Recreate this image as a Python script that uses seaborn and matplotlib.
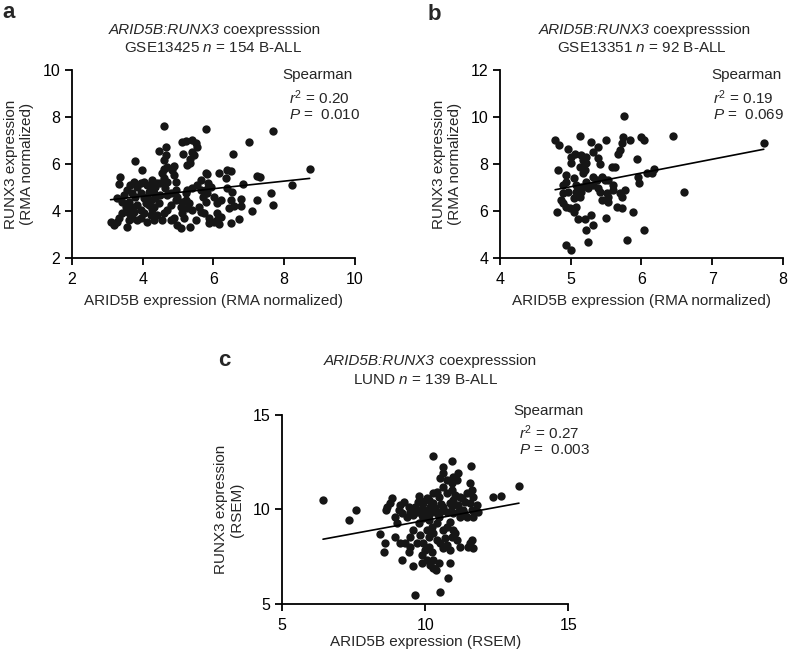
import numpy as np
import matplotlib
matplotlib.use("Agg")
import matplotlib.pyplot as plt
import seaborn as sns

# panel a: GSE13425 (ARID5B x, RUNX3 y)
a_x = [4.60, 5.78, 7.67, 7.00, 8.72, 8.23, 7.62, 7.67, 7.24, 7.10, 7.24, 7.33, 6.55, 6.84, 6.77,
       6.77, 6.72, 6.49, 6.49, 6.39, 6.16, 6.35, 6.37, 6.53, 6.49, 6.58, 6.44, 6.20, 6.11, 6.09,
       6.20, 6.11, 6.16, 6.02, 5.88, 5.88, 5.73, 5.80, 5.81, 5.82, 5.84, 5.80, 5.82, 5.64, 5.54,
       5.40, 5.26, 5.31, 5.26, 5.40, 5.50, 5.35, 5.17, 5.07, 4.97, 4.88, 5.07, 5.12, 4.93, 4.79,
       4.69, 4.60, 4.55, 4.41, 4.27, 5.21, 5.21, 4.93, 4.79, 4.64, 4.69, 4.50,
       5.21, 5.40, 5.50, 5.54, 5.40, 5.45, 5.35, 5.35, 5.26, 5.14, 5.12,
       4.46, 4.65, 4.65, 4.60, 4.69, 4.88, 4.60, 4.55, 4.60, 4.50, 4.69, 4.93,
       3.79, 3.98, 3.37, 3.34,
       3.09, 3.18, 3.28, 3.32, 3.42, 3.56, 3.61, 3.70, 3.84, 3.94, 3.52, 3.61, 3.70, 3.84, 3.94,
       4.03, 4.17, 4.22, 4.12, 4.31, 3.46, 3.56, 3.65, 3.75, 3.84, 3.94, 4.03, 4.12, 4.22, 4.27,
       3.70, 3.79, 3.94, 4.03, 4.12, 4.22, 4.31, 4.36, 4.08, 3.75, 3.42, 3.28, 4.36, 4.41, 4.17,
       3.61, 4.31, 4.46,
       5.64, 5.69, 5.59, 5.64, 5.92, 6.01, 4.88, 4.83, 4.97, 5.12, 4.79]
a_y = [7.62, 7.52, 7.41, 6.93, 5.80, 5.12, 4.79, 4.28, 4.48, 4.01, 5.51, 5.44, 6.46, 5.17, 4.52,
       4.24, 3.67, 3.52, 5.73, 5.76, 5.61, 5.40, 5.00, 4.83, 4.48, 4.22, 4.12, 4.48, 4.37, 3.91,
       3.77, 3.63, 3.46, 3.56, 3.70, 3.49, 3.91, 4.38, 4.76, 4.93, 5.21, 5.64, 5.57, 5.33, 5.12,
       5.00, 4.90, 4.34, 4.12, 4.05, 3.63, 3.35, 3.70, 3.30, 3.42, 3.70, 4.20, 4.41, 4.48, 4.27,
       4.05, 3.91, 3.63, 3.84, 4.08, 4.48, 4.76, 4.90, 4.76, 4.97, 4.69, 4.69,
       7.00, 7.02, 6.89, 6.74, 6.53, 6.39, 6.21, 6.04, 5.97, 6.46, 6.93,
       6.56, 6.74, 6.39, 6.18, 5.90, 5.92, 5.82, 5.61, 5.40, 5.19, 5.26, 5.26,
       6.15, 5.75, 5.47, 5.16,
       3.56, 3.42, 3.56, 3.70, 3.91, 3.35, 3.63, 3.70, 3.63, 3.70, 4.20, 4.41, 4.20, 4.27, 4.05,
       3.91, 4.27, 3.84, 3.56, 3.63, 4.69, 4.90, 5.12, 5.26, 5.05, 5.19, 5.26, 5.12, 5.05, 5.33,
       4.76, 4.62, 4.76, 4.55, 4.62, 4.48, 4.76, 4.55, 4.34, 3.98, 4.41, 4.55, 5.05, 5.22, 4.83,
       3.91, 4.20, 4.34,
       4.90, 4.62, 4.20, 3.98, 5.05, 4.62, 5.54, 5.75, 4.62, 3.91, 3.63]

# panel b: GSE13351
b_x = [5.75, 6.44, 7.73, 6.60, 6.03, 5.79, 5.25, 4.94, 5.00, 5.13, 4.78, 4.84, 5.50, 5.28, 5.72,
       5.74, 5.84, 6.00, 6.03, 5.69, 5.67, 5.39, 4.96, 5.01, 5.06, 5.15, 5.22, 5.32, 5.18, 5.01,
       5.13, 5.22, 5.39, 5.41, 5.58, 5.62, 5.94, 4.82, 5.20, 5.18, 4.94, 5.04, 4.94, 5.08, 4.89,
       5.15, 5.15, 5.32, 5.37, 5.44, 5.48, 5.53, 5.32, 5.39, 5.41, 5.51, 5.53, 5.60, 5.60, 5.69,
       5.77, 5.72, 5.44, 5.53, 5.65, 5.73, 5.88, 5.95, 5.96, 6.08, 6.15, 6.18, 4.86, 4.89, 4.94,
       4.99, 5.04, 4.80, 4.89, 5.04, 5.11, 5.08, 5.20, 5.29, 5.32, 5.22, 5.50, 5.21, 5.25, 5.13,
       5.08, 4.96]
b_y = [10.05, 9.20, 8.89, 6.83, 5.20, 4.78, 4.68, 4.57, 4.35, 9.20, 9.03, 8.82, 9.03, 8.96, 8.89,
       9.17, 9.03, 9.17, 9.03, 8.60, 8.46, 8.74, 8.67, 8.32, 8.46, 8.39, 8.32, 8.53, 8.18, 8.04,
       7.90, 8.04, 8.25, 8.00, 7.90, 7.87, 8.21, 7.75, 7.75, 7.61, 7.54, 7.40, 7.26, 7.12, 7.12,
       7.05, 6.83, 7.47, 7.33, 7.47, 7.33, 7.33, 7.12, 6.97, 6.83, 6.76, 6.62, 7.12, 6.90, 6.76,
       6.90, 6.62, 6.48, 6.41, 6.20, 6.12, 5.96, 7.47, 7.19, 7.61, 7.61, 7.82, 6.48, 6.34, 6.20,
       6.12, 5.98, 5.96, 6.76, 6.55, 5.66, 6.20, 5.67, 5.84, 5.42, 5.20, 5.73, 7.26, 6.97, 6.62,
       6.83, 6.83]

# panel c: LUND (RSEM)
c_x = [6.43, 7.33, 7.58, 8.43, 8.60, 8.57, 8.84, 8.66, 8.64, 8.78, 9.01, 9.13, 9.19, 9.42, 9.57,
       9.48, 9.65, 10.52, 10.81, 10.26, 10.29, 10.64, 10.93, 11.60, 13.28, 12.67, 12.36, 9.77, 9.13,
       9.19, 9.08, 9.48, 9.59, 9.71, 9.83, 9.88, 9.94, 10.12, 10.12, 10.06, 10.17, 10.29, 10.35,
       10.29, 10.41, 10.47, 10.64, 10.76, 10.93, 11.10, 10.76, 10.93, 11.05, 11.22, 11.45, 11.63,
       11.69, 11.40, 11.16, 10.87, 10.64, 10.52, 10.76, 10.99, 11.16, 11.34, 11.57, 11.63, 11.69,
       11.86, 11.80, 11.45, 11.22, 10.47, 10.41, 10.23, 10.06, 10.29, 10.12, 9.94, 10.12, 10.23,
       10.00, 9.88, 10.06, 10.29, 10.41, 10.52, 10.70, 10.64, 10.76, 10.87, 10.99, 10.93, 11.05,
       11.10, 10.76, 10.87, 10.64, 9.77, 9.59, 9.83, 9.71, 9.88, 10.17, 10.37, 9.65, 9.42, 9.25,
       11.57, 11.63, 11.51, 11.69, 9.31, 8.95, 9.48, 10.52, 10.64, 10.99, 11.16, 11.57, 10.99,
       10.12, 9.94, 8.95, 10.87, 10.47, 11.22,
       9.90, 10.00, 10.20, 10.35, 9.60, 9.75, 10.55, 11.30, 10.05, 9.85, 10.45, 11.35, 9.35, 10.95]
c_y = [10.50, 9.44, 9.97, 8.70, 8.25, 7.77, 10.59, 10.15, 9.97, 10.33, 9.27, 8.21, 7.33, 7.77, 7.01,
       8.03, 5.48, 5.65, 6.36, 6.92, 12.83, 12.23, 12.57, 12.30, 11.24, 10.71, 10.68, 10.73, 10.24,
       9.80, 9.97, 9.89, 9.71, 9.89, 9.97, 9.71, 9.53, 9.71, 9.44, 9.97, 10.15, 10.33, 9.89,
       10.86, 10.94, 10.68, 11.21, 11.56, 11.38, 11.56, 10.86, 11.03, 10.77, 10.68, 10.86, 11.03,
       10.68, 10.41, 10.24, 10.33, 10.15, 9.89, 9.89, 9.80, 9.89, 9.97, 10.33, 9.97, 9.62,
       9.89, 10.24, 9.62, 9.62, 9.62, 9.27, 9.09, 8.92, 8.74, 8.56, 8.21, 8.03, 7.77,
       7.86, 7.59, 7.33, 7.33, 8.39, 8.21, 8.47, 7.95, 8.14, 7.86, 8.92, 8.56, 8.74,
       8.39, 9.09, 9.36, 8.92, 9.27, 8.92, 8.65, 8.21, 7.15, 7.06, 6.80, 10.15, 10.15, 10.41,
       8.21, 8.39, 8.03, 7.95, 8.21, 8.56, 8.56, 11.65, 11.91, 11.74, 11.91, 11.38, 10.50,
       10.50, 10.33, 9.62, 7.15, 7.15, 8.03,
       10.05, 9.85, 9.95, 10.10, 9.90, 10.40, 10.30, 10.60, 10.60, 10.45, 9.75, 9.80, 9.60, 10.20]

panels = [
    dict(x=a_x, y=a_y, letter="a", dataset="GSE13425", n=154, r2="0.20", p="0.010",
         xlim=(2, 10), ylim=(2, 10), ticks=[2, 4, 6, 8, 10], unit="RMA normalized",
         rect=[0.0914, 0.604, 0.359, 0.288],
         title_x=0.521, title_y=(1.213, 1.117),
         txt_x=(0.745, 0.767), txt_y=(0.978, 0.856, 0.76),
         letter_pos=(2, 13), xpad=5),
    dict(x=b_x, y=b_y, letter="b", dataset="GSE13351", n=92, r2="0.19", p="0.069",
         xlim=(4, 8), ylim=(4, 12), xticks=[4, 5, 6, 7, 8], ticks=[4, 6, 8, 10, 12],
         unit="RMA normalized", rect=[0.6345, 0.604, 0.359, 0.288],
         title_x=0.528, title_y=(1.213, 1.117),
         txt_x=(0.748, 0.753), txt_y=(0.978, 0.856, 0.76),
         letter_pos=(428, 14), xpad=5),
    dict(x=c_x, y=c_y, letter="c", dataset="LUND", n=139, r2="0.27", p="0.003",
         xlim=(5, 15), ylim=(5, 15), ticks=[5, 10, 15], unit="RSEM",
         rect=[0.358, 0.0736, 0.363, 0.29],
         title_x=0.533, title_y=(1.286, 1.185),
         txt_x=(0.808, 0.829), txt_y=(1.02, 0.905, 0.815),
         letter_pos=(218, 361), xpad=1.5),
]

sns.set_style("ticks")
plt.rcParams["font.family"] = ["Liberation Sans", "DejaVu Sans"]
plt.rcParams["mathtext.fontset"] = "custom"
plt.rcParams["mathtext.rm"] = "Liberation Sans"
plt.rcParams["mathtext.it"] = "Liberation Sans:italic"

W, H = 788, 652
fig = plt.figure(figsize=(W / 100, H / 100), dpi=100)

for p in panels:
    ax = fig.add_axes(p["rect"])
    sns.regplot(x=np.array(p["x"]), y=np.array(p["y"]), ax=ax, ci=None,
                scatter_kws=dict(s=36, color="#161616", linewidths=0, alpha=1),
                line_kws=dict(color="black", lw=1.2))
    ax.set_xlim(*p["xlim"])
    ax.set_ylim(*p["ylim"])
    ax.set_xticks(p.get("xticks", p["ticks"]))
    ax.set_yticks(p["ticks"])
    sns.despine(ax=ax)
    for s in ["left", "bottom"]:
        ax.spines[s].set_linewidth(1.3)
        ax.spines[s].set_color("black")
    ax.tick_params(direction="out", length=5, width=1.3, labelsize=11.5, colors="black")
    ax.tick_params(axis="x", pad=5)
    ax.set_xlabel("ARID5B expression (%s)" % p["unit"], fontsize=11, labelpad=p["xpad"])
    ax.set_ylabel("RUNX3 expression\n(%s)" % p["unit"], fontsize=11, labelpad=6)

    # two-line title, gene pair in italics
    ty1, ty2 = p["title_y"]
    ax.text(p["title_x"], ty1, "ARID5B:RUNX3", transform=ax.transAxes, fontsize=11,
            style="italic", ha="right", va="center")
    ax.text(p["title_x"], ty1, " coexpresssion", transform=ax.transAxes, fontsize=11,
            ha="left", va="center")
    ax.text(0.5, ty2, r"%s $n$ = %d B-ALL" % (p["dataset"], p["n"]), transform=ax.transAxes,
            fontsize=11, ha="center", va="center")

    # Spearman stats
    tx1, tx2 = p["txt_x"]
    sy1, sy2, sy3 = p["txt_y"]
    ax.text(tx1, sy1, "Spearman", transform=ax.transAxes, fontsize=11, va="center")
    ax.text(tx2, sy2, r"$r^2$ = %s" % p["r2"], transform=ax.transAxes, fontsize=11, va="center")
    ax.text(tx2, sy3, r"$P$ =  %s" % p["p"], transform=ax.transAxes, fontsize=11, va="center")

    lx, ly = p["letter_pos"]
    fig.text(lx / W, 1 - ly / H, p["letter"], fontsize=16, fontweight="bold",
             ha="left", va="center")

fig.savefig("out.png", dpi=100)
